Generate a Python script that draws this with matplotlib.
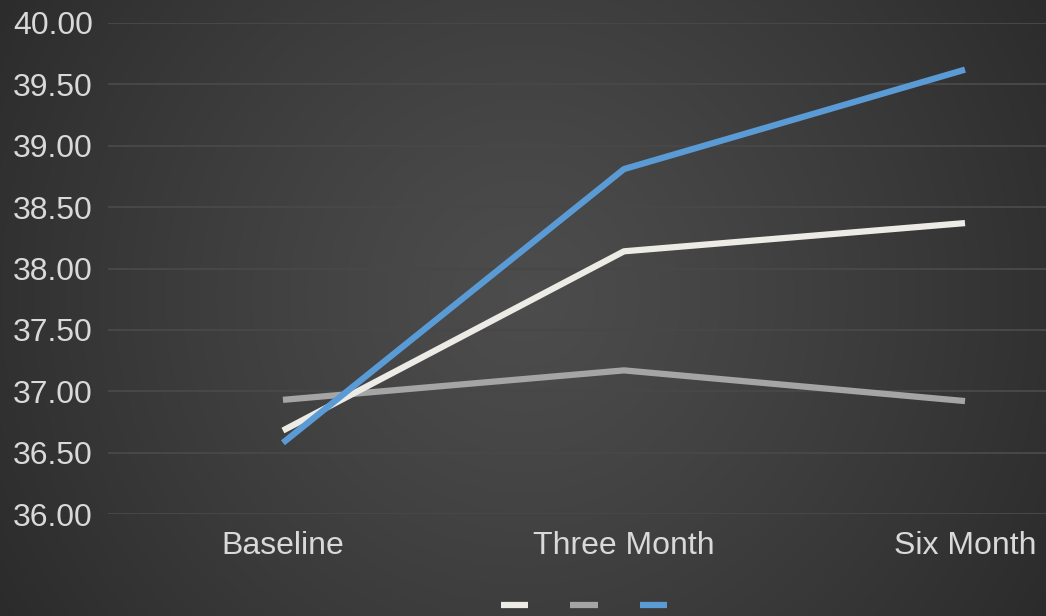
import numpy as np
import matplotlib
matplotlib.use("Agg")
import matplotlib.pyplot as plt

# Data
categories = ["Baseline", "Three Month", "Six Month"]
series_white = [36.68, 38.14, 38.37]
series_gray = [36.93, 37.17, 36.92]
series_blue = [36.58, 38.81, 39.62]
y_ticks = [36.0, 36.5, 37.0, 37.5, 38.0, 38.5, 39.0, 39.5, 40.0]

plt.rcParams["font.family"] = ["Liberation Sans", "DejaVu Sans"]

W, H = 1046, 616
fig = plt.figure(figsize=(W / 100, H / 100), dpi=100)

# Radial gradient background
bg = fig.add_axes([0, 0, 1, 1], zorder=0)
yy, xx = np.mgrid[0:H, 0:W]
cx, cy = 0.5 * W, 0.48 * H
r = np.sqrt(((xx - cx) / (0.62 * W)) ** 2 + ((yy - cy) / (0.62 * W)) ** 2)
r = np.clip(r, 0, 1)
inner, outer = 0.30, 0.16
val = inner + (outer - inner) * r ** 1.2
img = np.dstack([val, val, val])
bg.imshow(img, aspect="auto", extent=[0, 1, 0, 1], interpolation="bilinear")
bg.set_axis_off()

# Main plot area
left_px, right_px = 108, 1046
top_px, bottom_px = 23, 514
ax = fig.add_axes([left_px / W, 1 - bottom_px / H,
                   (right_px - left_px) / W, (bottom_px - top_px) / H], zorder=1)
ax.patch.set_alpha(0)
x = np.arange(len(categories))
ax.set_xlim(-0.513, 2.2375)
ax.set_ylim(36.0, 40.0)

ax.set_yticks(y_ticks)
ax.set_yticklabels([f"{v:.2f}" for v in y_ticks])
ax.set_xticks(x)
ax.set_xticklabels(categories)
ax.grid(axis="y", color="#474747", linewidth=1.5)
ax.set_axisbelow(True)
for s in ax.spines.values():
    s.set_visible(False)
ax.tick_params(axis="both", length=0, colors="#d9d9d9", labelsize=23)
ax.tick_params(axis="y", pad=11)
ax.tick_params(axis="x", pad=12)
for lab in ax.get_yticklabels():
    lab.set_horizontalalignment("right")

l1, = ax.plot(x, series_white, color="#ecebe6", linewidth=4.5, solid_capstyle="butt", zorder=3)
l2, = ax.plot(x, series_gray, color="#a5a5a5", linewidth=4.5, solid_capstyle="butt", zorder=2)
l3, = ax.plot(x, series_blue, color="#5b9bd5", linewidth=4.5, solid_capstyle="butt", zorder=4)

leg = fig.legend([l1, l2, l3], ["", "", ""], loc="center", bbox_to_anchor=(584 / W, 1 - 606 / H),
                 ncol=3, frameon=False, fontsize=10, handlelength=2.0, handletextpad=0.0,
                 columnspacing=3.0, borderpad=0)
for h in leg.get_lines():
    h.set_linewidth(4.5)

fig.savefig("out.png", dpi=100)
